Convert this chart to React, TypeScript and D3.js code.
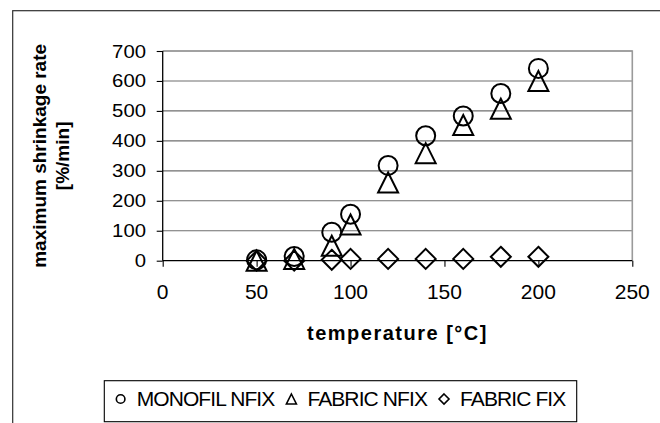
import React, { useRef, useEffect } from "react";
import * as d3 from "d3";

// temperature [°C]
const temps = [50, 70, 90, 100, 120, 140, 160, 180, 200];
// maximum shrinkage rate [%/min]
const monofilNfix = [3, 14, 95, 155, 318, 417, 483, 558, 642];
const fabricNfix = [0, 6, 50, 121, 261, 359, 453, 507, 600];
const fabricFix = [0, 0, 3, 6, 6, 6, 6, 13, 13];

const xTicks = [0, 50, 100, 150, 200, 250];
const yTicks = [0, 100, 200, 300, 400, 500, 600, 700];

const seriesNames = ["MONOFIL NFIX", "FABRIC NFIX", "FABRIC FIX"];
const seriesShapes = ["circle", "triangle", "diamond"];

const W = 660;
const H = 423;
const PLOT = { left: 162.7, right: 632.3, top: 51, bottom: 260.7 };
const FONT = "'Liberation Sans', Arial, sans-serif";

function markerPath(shape: string, s: number) {
  // s = full marker size in px
  const h = s / 2;
  if (shape === "triangle") return `M0,${-h}L${h},${h}L${-h},${h}Z`;
  if (shape === "diamond") return `M0,${-h}L${h},0L0,${h}L${-h},0Z`;
  return `M${h},0A${h},${h} 0 1,1 ${-h},0A${h},${h} 0 1,1 ${h},0Z`;
}

export default function App() {
  const svgRef = useRef<SVGSVGElement>(null);

  useEffect(() => {
    const svg = d3.select(svgRef.current);
    svg.selectAll("*").remove();

    const x = d3.scaleLinear().domain([0, 250]).range([PLOT.left, PLOT.right]);
    const y = d3.scaleLinear().domain([0, 700]).range([PLOT.bottom, PLOT.top]);

    svg.append("rect").attr("width", W).attr("height", H).attr("fill", "#fff");

    // outer chart frame (right/bottom run off the picture)
    svg
      .append("rect")
      .attr("x", 12.7)
      .attr("y", 10.7)
      .attr("width", 700)
      .attr("height", 500)
      .attr("fill", "none")
      .attr("stroke", "#303030")
      .attr("stroke-width", 1.2);

    // gridlines
    svg
      .append("g")
      .selectAll("line")
      .data(yTicks.filter((d) => d > 0))
      .join("line")
      .attr("x1", PLOT.left)
      .attr("x2", PLOT.right)
      .attr("y1", (d) => y(d))
      .attr("y2", (d) => y(d))
      .attr("stroke", "#6e6e6e")
      .attr("stroke-width", 1.1);

    // plot border top / right
    svg
      .append("path")
      .attr("d", `M${PLOT.left},${PLOT.top}H${PLOT.right}V${PLOT.bottom}`)
      .attr("fill", "none")
      .attr("stroke", "#9a9a9a")
      .attr("stroke-width", 1.6);

    // axes
    const yAxis = d3.axisLeft(y).tickValues(yTicks).tickSize(6).tickFormat(() => "");
    const xAxis = d3.axisBottom(x).tickValues(xTicks).tickSize(6).tickFormat(() => "");
    const gy = svg.append("g").attr("transform", `translate(${PLOT.left},0)`).call(yAxis);
    const gx = svg.append("g").attr("transform", `translate(0,${PLOT.bottom})`).call(xAxis);
    [gx, gy].forEach((g) => {
      g.select(".domain").attr("stroke", "#000").attr("stroke-width", 1.3);
      g.selectAll(".tick line").attr("stroke", "#000").attr("stroke-width", 1.1);
    });
    gy.select(".domain").attr("d", `M-0,${PLOT.bottom}V${PLOT.top}`);
    gx.select(".domain").attr("d", `M${PLOT.left},0H${PLOT.right}`);

    // y tick labels (slightly wide glyphs)
    svg
      .append("g")
      .selectAll("text")
      .data(yTicks)
      .join("text")
      .attr("transform", (d) => `translate(146,${y(d) + 6.5}) scale(1.07,1)`)
      .attr("text-anchor", "end")
      .attr("font-family", FONT)
      .attr("font-size", 19)
      .attr("fill", "#000")
      .text((d) => d);

    // x tick labels
    svg
      .append("g")
      .selectAll("text")
      .data(xTicks)
      .join("text")
      .attr("x", (d) => x(d))
      .attr("y", 299)
      .attr("text-anchor", "middle")
      .attr("font-family", FONT)
      .attr("font-size", 21)
      .attr("fill", "#000")
      .text((d) => d);

    // axis titles
    svg
      .append("text")
      .attr("x", (PLOT.left + PLOT.right) / 2)
      .attr("y", 340)
      .attr("text-anchor", "middle")
      .attr("font-family", FONT)
      .attr("font-weight", "bold")
      .attr("font-size", 20)
      .attr("letter-spacing", 1.5)
      .text("temperature [°C]");

    const yt = svg
      .append("text")
      .attr("transform", `translate(0,${(PLOT.top + PLOT.bottom) / 2}) rotate(-90)`)
      .attr("text-anchor", "middle")
      .attr("font-family", FONT)
      .attr("font-weight", "bold")
      .attr("font-size", 19);
    yt.append("tspan").attr("x", 0).attr("y", 46).text("maximum shrinkage rate");
    yt.append("tspan").attr("x", 0).attr("y", 68.5).text("[%/min]");

    // series markers
    const series = [monofilNfix, fabricNfix, fabricFix];
    series.forEach((vals, i) => {
      svg
        .append("g")
        .selectAll("path")
        .data(vals)
        .join("path")
        .attr("transform", (d, j) => `translate(${x(temps[j])},${y(d)})`)
        .attr("d", markerPath(seriesShapes[i], i === 0 ? 19 : 20))
        .attr("fill", "none")
        .attr("stroke", "#000")
        .attr("stroke-width", 2);
    });

    // legend
    const legend = svg.append("g");
    const items = legend.append("g");
    let cx = 0;
    seriesNames.forEach((name, i) => {
      items
        .append("path")
        .attr("transform", `translate(${cx},0)`)
        .attr("d", markerPath(seriesShapes[i], i === 0 ? 8.6 : 10))
        .attr("fill", "none")
        .attr("stroke", "#000")
        .attr("stroke-width", 1.6);
      const t = items
        .append("text")
        .attr("x", cx + 16)
        .attr("y", 7.3)
        .attr("font-family", FONT)
        .attr("font-size", 21)
        .attr("letter-spacing", -0.9)
        .text(name);
      const tw = (t.node() as SVGTextElement).getComputedTextLength();
      cx += 16 + tw + 17;
    });
    const boxL = 104.3;
    const boxR = 576.7;
    const boxW = boxR - boxL;
    const itemsW = cx - 17 + 5; // include half of first marker
    items.attr("transform", `translate(${boxL + (boxW - itemsW) / 2 + 5},399)`);
    legend
      .insert("rect", ":first-child")
      .attr("x", boxL)
      .attr("y", 380.7)
      .attr("width", boxW)
      .attr("height", 41)
      .attr("fill", "#fff")
      .attr("stroke", "#000")
      .attr("stroke-width", 1.1);
  }, []);

  return (
    <svg
      ref={svgRef}
      width={W}
      height={H}
      style={{ position: "absolute", left: 0, top: 0 }}
    />
  );
}
